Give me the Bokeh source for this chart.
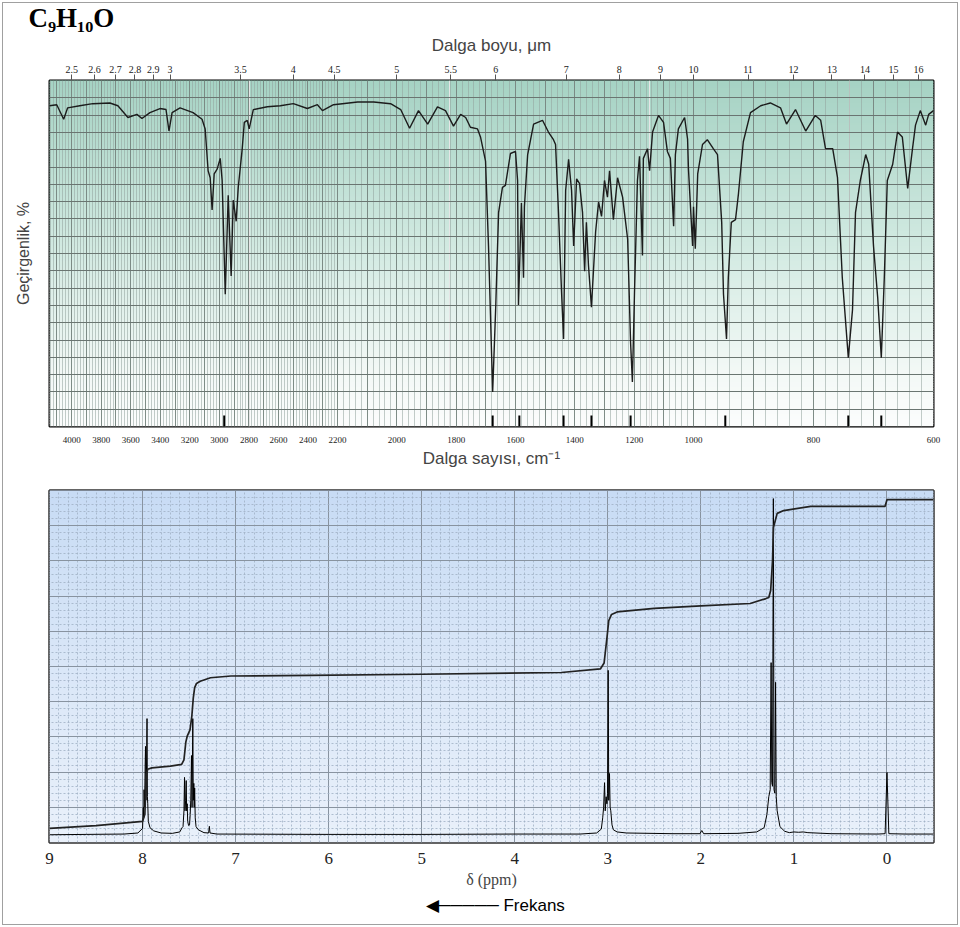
import numpy as np
from bokeh.plotting import figure
from bokeh.models import (Range1d, FixedTicker, Grid, LinearAxis, Title,
                          SingleIntervalTicker)
from bokeh.layouts import column
from bokeh.embed import file_html
from bokeh.resources import INLINE

# ---------------- IR spectrum data (wavenumber cm-1, transmittance %) ----------------
ir_wavenumber = [
    4150, 4101, 4054, 4027, 3945, 3857, 3741, 3687, 3619, 3558,
    3524, 3470, 3402, 3361, 3341, 3320, 3266, 3178, 3117, 3096,
    3076, 3062, 3049, 3035, 3015, 2994, 2981, 2960, 2940, 2920,
    2906, 2886, 2872, 2845, 2831, 2811, 2798, 2770, 2675, 2587,
    2499, 2404, 2336, 2302, 2227,
    2132, 2078, 2021, 1987, 1957, 1927, 1896, 1863, 1836, 1809,
    1785, 1768, 1752, 1728, 1718, 1701, 1691, 1677, 1667, 1657,
    1644, 1634, 1617, 1600, 1593, 1590, 1580, 1573, 1570, 1559,
    1539, 1509, 1489, 1472, 1465, 1455, 1445, 1438, 1431, 1421,
    1411, 1404, 1394, 1384, 1374, 1367, 1361, 1354, 1344, 1330,
    1320, 1310, 1300, 1290, 1283, 1270, 1256, 1239, 1222, 1212,
    1206, 1199, 1189, 1182, 1172, 1169, 1155, 1148, 1138, 1118,
    1101, 1088, 1078, 1067, 1061, 1051, 1030, 1020, 1017, 1003,
    1000,
    997, 993, 985, 977, 967, 960, 953, 950, 945, 942,
    937, 930, 925, 917, 905, 888, 872, 855, 845, 830,
    813, 797, 788, 780, 768, 760, 752, 742, 735, 730,
    722, 713, 708, 700, 693, 687, 682, 677, 668, 660,
    652, 643, 635, 630, 622, 613, 608, 600,
]
ir_transmittance = [
    92.7, 93.0, 88.8, 92.1, 92.7, 93.3, 93.5, 92.7, 89.3, 90.2,
    89.0, 90.7, 91.9, 91.6, 85.4, 90.7, 92.1, 90.7, 88.8, 86.0,
    73.9, 71.9, 62.6, 73.0, 74.4, 77.5, 71.1, 38.2, 66.8, 43.5,
    65.4, 59.3, 69.1, 80.3, 87.9, 88.5, 86.0, 91.6, 92.4, 92.7,
    93.3, 91.9, 93.0, 91.3, 93.0,
    93.8, 93.8, 93.3, 91.6, 86.2, 91.3, 87.4, 92.4, 91.3, 86.8,
    90.2, 89.3, 86.5, 86.0, 83.7, 76.7, 52.2, 10.0, 33.7, 61.8,
    69.1, 69.7, 78.9, 79.5, 71.1, 35.1, 64.6, 43.0, 63.5, 78.6,
    87.4, 88.5, 85.1, 82.9, 81.5, 61.8, 39.3, 25.3, 68.2, 77.2,
    68.2, 52.2, 71.6, 70.2, 61.8, 44.9, 59.0, 46.6, 34.5, 56.2,
    64.9, 60.7, 71.1, 66.3, 73.9, 59.8, 71.9, 66.3, 54.2, 24.1,
    12.9, 38.2, 71.1, 78.1, 49.4, 77.5, 80.3, 73.9, 85.1, 89.9,
    87.9, 79.5, 77.5, 57.9, 78.6, 86.0, 89.3, 83.1, 74.4, 52.2,
    63.5,
    51.4, 73.0, 81.5, 82.9, 80.3, 78.6, 59.0, 38.2, 25.3, 43.0,
    59.0, 59.8, 67.4, 82.3, 90.7, 92.7, 93.5, 92.1, 87.4, 91.6,
    85.4, 89.9, 88.5, 80.3, 80.3, 71.9, 43.0, 19.9, 33.7, 61.8,
    71.1, 78.6, 75.8, 52.2, 37.3, 19.9, 43.0, 71.1, 75.8, 85.1,
    83.7, 68.8, 80.3, 87.1, 91.3, 87.1, 90.2, 91.3,
]
assert len(ir_wavenumber) == len(ir_transmittance)

ir_peak_marks = [2967, 1677, 1587, 1438, 1344, 1212, 947, 742, 687]
ir_bottom_ticks = [4000, 3800, 3600, 3400, 3200, 3000, 2800, 2600, 2400, 2200,
                   2000, 1800, 1600, 1400, 1200, 1000, 800, 600]
ir_top_ticks_um = [2.5, 2.6, 2.7, 2.8, 2.9, 3, 3.5, 4, 4.5, 5, 5.5, 6, 7, 8, 9,
                   10, 11, 12, 13, 14, 15, 16]

# ---------------- 1H NMR data (ppm, signal) ----------------
nmr_ppm = [
    9.00, 8.60, 8.20, 8.05, 8.00, 7.992, 7.988, 7.984, 7.978, 7.972,
    7.968, 7.963, 7.958, 7.952, 7.948, 7.944, 7.938, 7.92, 7.88, 7.80,
    7.68, 7.60, 7.575, 7.565, 7.555, 7.549, 7.544, 7.537, 7.531, 7.526,
    7.520, 7.515, 7.505, 7.495, 7.488, 7.482, 7.474, 7.468, 7.460, 7.455,
    7.449, 7.445, 7.440, 7.434, 7.425, 7.40, 7.34, 7.29, 7.282, 7.275,
    7.20, 6.0, 5.0, 4.0, 3.30, 3.12, 3.07, 3.055, 3.045, 3.035,
    3.028, 3.018, 3.010, 3.003, 2.996, 2.990, 2.982, 2.975, 2.968, 2.955,
    2.94, 2.90, 2.80, 2.30, 2.01, 1.99, 1.97, 1.60, 1.40, 1.32,
    1.29, 1.27, 1.255, 1.245, 1.238, 1.230, 1.221, 1.214, 1.205, 1.197,
    1.19, 1.18, 1.15, 1.10, 1.05, 1.00, 0.95, 0.90, 0.85, 0.60,
    0.10, 0.02, 0.0, -0.02, -0.20, -0.50,
]
nmr_signal = [
    0.22, 0.23, 0.24, 0.27, 0.40, 1.00, 0.70, 1.50, 1.00, 2.20,
    2.73, 1.20, 2.00, 3.52, 1.30, 1.10, 0.60, 0.42, 0.33, 0.27,
    0.26, 0.30, 0.42, 0.45, 0.90, 1.85, 0.90, 1.20, 1.76, 0.90,
    1.10, 0.60, 0.48, 0.50, 0.80, 1.20, 2.47, 1.00, 3.52, 1.20,
    1.68, 1.00, 1.55, 0.70, 0.45, 0.36, 0.28, 0.27, 0.46, 0.27,
    0.24, 0.23, 0.23, 0.24, 0.24, 0.27, 0.38, 0.70, 1.00, 1.70,
    0.90, 1.30, 1.10, 1.40, 4.89, 1.20, 1.96, 1.00, 0.90, 0.50,
    0.36, 0.30, 0.27, 0.25, 0.25, 0.34, 0.25, 0.26, 0.30, 0.42,
    0.80, 1.30, 1.50, 5.11, 1.70, 1.60, 9.77, 1.50, 1.40, 4.55,
    1.30, 0.90, 0.45, 0.32, 0.28, 0.30, 0.29, 0.30, 0.28, 0.25,
    0.24, 0.25, 1.99, 0.25, 0.24, 0.24,
]
assert len(nmr_ppm) == len(nmr_signal)

integral_ppm = [
    9.00, 8.50, 8.00, 7.975, 7.965, 7.955, 7.945, 7.90, 7.70, 7.58,
    7.555, 7.535, 7.52, 7.49, 7.47, 7.455, 7.44, 7.42, 7.38, 7.27,
    7.05, 6.20, 5.00, 3.50, 3.08, 3.04, 3.01, 2.99, 2.96, 2.90,
    2.50, 2.00, 1.47, 1.30, 1.27, 1.25, 1.23, 1.22, 1.18, 1.11,
    0.82, 0.02, 0.0, -0.50,
]
integral_value = [
    0.40, 0.48, 0.60, 0.80, 1.60, 1.96, 2.08, 2.12, 2.17, 2.22,
    2.35, 2.85, 3.02, 3.20, 3.60, 4.10, 4.40, 4.52, 4.58, 4.68,
    4.73, 4.75, 4.78, 4.83, 4.93, 5.10, 5.80, 6.30, 6.48, 6.55,
    6.65, 6.72, 6.79, 6.93, 6.96, 7.16, 8.00, 8.95, 9.35, 9.43,
    9.55, 9.55, 9.74, 9.74,
]
assert len(integral_ppm) == len(integral_value)

# ---------------- helpers ----------------
SANS = "Liberation Sans"
SERIF = "Liberation Serif"

# piecewise-linear chart-paper scale of the IR x axis (three expansions)
SCALE_WN = np.array([4150.0, 2200.0, 1000.0, 600.0])
SCALE_U = np.array([0.0, 288.0, 644.0, 884.0])


def wn_to_u(w):
    w = np.asarray(w, dtype=float)
    return np.round(np.interp(-w, -SCALE_WN, SCALE_U), 3)


def gradient(stops_t, stops_rgb, t):
    rgb = np.array(stops_rgb, dtype=float)
    r = np.interp(t, stops_t, rgb[:, 0])
    g = np.interp(t, stops_t, rgb[:, 1])
    b = np.interp(t, stops_t, rgb[:, 2])
    return ["#%02x%02x%02x" % (int(a), int(bb), int(c)) for a, bb, c in zip(r, g, b)]


# ================= IR figure =================
p1 = figure(width=960, height=470, x_range=Range1d(0, 884), y_range=Range1d(0, 100),
            output_backend="svg", toolbar_location=None,
            x_axis_location=None, y_axis_location=None,
            min_border_left=49, min_border_right=27, min_border_top=77, min_border_bottom=38)
p1.outline_line_color = "black"
p1.outline_line_width = 2
p1.background_fill_color = "white"
p1.border_fill_alpha = 0
p1.title = Title(text="C₉H₁₀O", align="left", offset=-21, standoff=0,
                 text_font=SERIF, text_font_style="bold", text_font_size="27px",
                 text_line_height=0.9, text_color="black")

nb = 140
edges = np.linspace(0, 100, nb + 1)
tmid = (edges[:-1] + edges[1:]) / 200.0
ir_cols = gradient([0.0, 0.15, 0.5, 1.0],
                   [(252, 253, 253), (244, 249, 247), (212, 235, 227), (166, 211, 196)], tmid)
p1.quad(left=0, right=884, bottom=edges[:-1], top=edges[1:] + 0.4,
        fill_color=ir_cols, line_color=None, level="image")

minor_wn = np.arange(620, 4150, 20)
major_wn = np.arange(700, 4150, 100)
p1.add_layout(Grid(dimension=0, ticker=FixedTicker(ticks=list(wn_to_u(minor_wn))),
                   grid_line_color="#93a49e", grid_line_width=0.7, grid_line_alpha=0.8))
p1.add_layout(Grid(dimension=0, ticker=FixedTicker(ticks=list(wn_to_u(major_wn))),
                   grid_line_color="#76847f", grid_line_width=0.9))
p1.add_layout(Grid(dimension=1, ticker=FixedTicker(ticks=list(range(5, 100, 5))),
                   grid_line_color="#6a7571", grid_line_width=1.0))

p1.line(wn_to_u(ir_wavenumber), ir_transmittance, line_color="#1c1c1c", line_width=1.4)
pm = wn_to_u(ir_peak_marks)
p1.segment(x0=pm, y0=[0] * len(pm), x1=pm, y1=[3.2] * len(pm),
           line_color="black", line_width=2)

bt = list(wn_to_u(ir_bottom_ticks))
ax_b = LinearAxis(ticker=FixedTicker(ticks=bt),
                  major_label_overrides={u: str(w) for u, w in zip(bt, ir_bottom_ticks)},
                  axis_line_color=None, major_tick_line_color=None, minor_tick_line_color=None,
                  major_label_text_font=SERIF, major_label_text_font_size="9px",
                  major_label_text_color="#222222", major_label_standoff=4,
                  axis_label="Dalga sayısı, cm⁻¹", axis_label_text_font=SANS,
                  axis_label_text_font_size="17px", axis_label_text_font_style="normal",
                  axis_label_standoff=3)
p1.add_layout(ax_b, "below")

tt = list(wn_to_u([10000.0 / l for l in ir_top_ticks_um]))
ax_t = LinearAxis(ticker=FixedTicker(ticks=tt),
                  major_label_overrides={u: ("%g" % l) for u, l in zip(tt, ir_top_ticks_um)},
                  axis_line_color=None, major_tick_line_color="#555555", major_tick_out=6,
                  major_tick_in=0, minor_tick_line_color=None,
                  major_label_text_font=SERIF, major_label_text_font_size="10px",
                  major_label_text_color="#222222", major_label_standoff=2,
                  axis_label="Dalga boyu, μm", axis_label_text_font=SANS,
                  axis_label_text_font_size="17px", axis_label_text_font_style="normal",
                  axis_label_standoff=8)
p1.add_layout(ax_t, "above")

ax_l = LinearAxis(ticker=FixedTicker(ticks=[]), axis_line_color=None,
                  major_tick_line_color=None, minor_tick_line_color=None,
                  axis_label="Geçirgenlik, %", axis_label_text_font=SANS,
                  axis_label_text_font_size="16px", axis_label_text_font_style="normal",
                  axis_label_standoff=18)
p1.add_layout(ax_l, "left")

# ================= NMR figure =================
p2 = figure(width=960, height=457, x_range=Range1d(9.0, -0.5), y_range=Range1d(0, 10),
            output_backend="svg", toolbar_location=None,
            min_border_left=49, min_border_right=27, min_border_top=20, min_border_bottom=85)
p2.outline_line_color = "#333333"
p2.outline_line_width = 2.5
p2.border_fill_alpha = 0
p2.yaxis.visible = False

edges2 = np.linspace(0, 10, nb + 1)
tmid2 = (edges2[:-1] + edges2[1:]) / 20.0
nmr_cols = gradient([0.0, 0.5, 1.0], [(234, 241, 251), (218, 231, 248), (200, 220, 245)], tmid2)
p2.quad(left=-0.5, right=9.0, bottom=edges2[:-1], top=edges2[1:] + 0.04,
        fill_color=nmr_cols, line_color=None, level="image")

p2.xaxis.ticker = SingleIntervalTicker(interval=1, num_minor_ticks=10)
p2.ygrid.ticker = SingleIntervalTicker(interval=1, num_minor_ticks=5)
for g in (p2.xgrid, p2.ygrid):
    g.grid_line_color = "#8893a0"
    g.grid_line_width = 1
    g.minor_grid_line_color = "#9fb0c4"
    g.minor_grid_line_dash = "2 2"
    g.minor_grid_line_width = 0.8

xa = p2.xaxis[0]
xa.axis_line_color = None
xa.major_tick_line_color = None
xa.minor_tick_line_color = None
xa.major_label_text_font = SERIF
xa.major_label_text_font_size = "17px"
xa.major_label_text_color = "#222222"
xa.major_label_standoff = 4
xa.axis_label = "δ (ppm)"
xa.axis_label_text_font = SERIF
xa.axis_label_text_font_size = "16px"
xa.axis_label_text_font_style = "normal"
xa.axis_label_standoff = 4

p2.line(nmr_ppm, nmr_signal, line_color="black", line_width=1.0)
p2.line(integral_ppm, integral_value, line_color="#222222", line_width=1.7)

p2.add_layout(Title(text="◀───── Frekans", align="left", offset=376, standoff=6,
                    text_font=SANS, text_font_style="normal", text_font_size="17px",
                    text_color="black"), "below")

layout = column(p1, p2, styles={"outline": "1px solid #a0a0a0", "outline-offset": "-3px"})
open("out.html", "w").write(file_html(layout, INLINE))
